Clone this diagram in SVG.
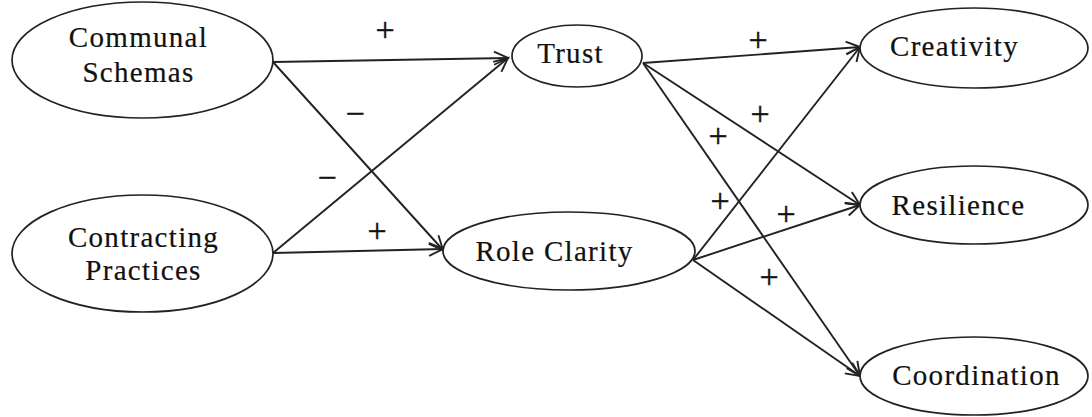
<svg xmlns="http://www.w3.org/2000/svg" width="1092" height="417" viewBox="0 0 1092 417">
<style>
.node ellipse{fill:#fff;stroke:#222;stroke-width:1.7}
.node text{font-family:'Liberation Serif','Times New Roman','DejaVu Serif',serif;font-size:29px;letter-spacing:1.3px;fill:#111;stroke:#111;stroke-width:0.2;text-anchor:middle}
.edges line{stroke:#222;stroke-width:1.9;marker-end:url(#arr)}
.sign{font-family:'Liberation Serif','Times New Roman','DejaVu Serif',serif;font-size:34px;fill:#111;stroke:#111;stroke-width:0.4;text-anchor:middle}
</style>
<defs>
<marker id="arr" markerUnits="userSpaceOnUse" markerWidth="20" markerHeight="20" viewBox="-16 -10 18 20" refX="0" refY="0" orient="auto">
<path d="M-14,-6.5 L0,0 L-14,6.5" fill="none" stroke="#222" stroke-width="1.9"/>
</marker>
</defs>
<g class="edges" id="connectors">
<line x1="273" y1="62" x2="508" y2="58"/>
<line x1="273" y1="62" x2="443" y2="250"/>
<line x1="273" y1="253" x2="508" y2="58"/>
<line x1="273" y1="253" x2="443" y2="249"/>
<line x1="643" y1="63" x2="860" y2="47"/>
<line x1="643" y1="63" x2="860" y2="205"/>
<line x1="643" y1="63" x2="860" y2="376"/>
<line x1="693" y1="260" x2="860" y2="47"/>
<line x1="693" y1="260" x2="860" y2="205"/>
<line x1="693" y1="260" x2="860" y2="376"/>
</g>
<g id="labels">
<text class="sign" x="385" y="41">+</text>
<text class="sign" x="355" y="125">−</text>
<text class="sign" x="327" y="189">−</text>
<text class="sign" x="377" y="242">+</text>
<text class="sign" x="758" y="51">+</text>
<text class="sign" x="760" y="125">+</text>
<text class="sign" x="718" y="147">+</text>
<text class="sign" x="720" y="212">+</text>
<text class="sign" x="786" y="225">+</text>
<text class="sign" x="769" y="288">+</text>
</g>
<g class="node" id="communal-schemas">
<ellipse cx="142.5" cy="60" rx="130.5" ry="58"/>
<text x="138.5" y="47">Communal</text>
<text x="138.5" y="82">Schemas</text>
</g>
<g class="node" id="contracting-practices">
<ellipse cx="142.5" cy="253.5" rx="130.5" ry="58.5"/>
<text x="143.5" y="247">Contracting</text>
<text x="143.5" y="280">Practices</text>
</g>
<g class="node" id="trust">
<ellipse cx="577" cy="56" rx="65" ry="31"/>
<text x="570.5" y="63">Trust</text>
</g>
<g class="node" id="role-clarity">
<ellipse cx="569" cy="251" rx="126" ry="39"/>
<text x="554.5" y="261">Role Clarity</text>
</g>
<g class="node" id="creativity">
<ellipse cx="974" cy="48" rx="114" ry="40"/>
<text x="954.5" y="56">Creativity</text>
</g>
<g class="node" id="resilience">
<ellipse cx="974" cy="205" rx="114" ry="39"/>
<text x="958.5" y="215">Resilience</text>
</g>
<g class="node" id="coordination">
<ellipse cx="974" cy="376" rx="114" ry="39"/>
<text x="976.5" y="385">Coordination</text>
</g>
</svg>
